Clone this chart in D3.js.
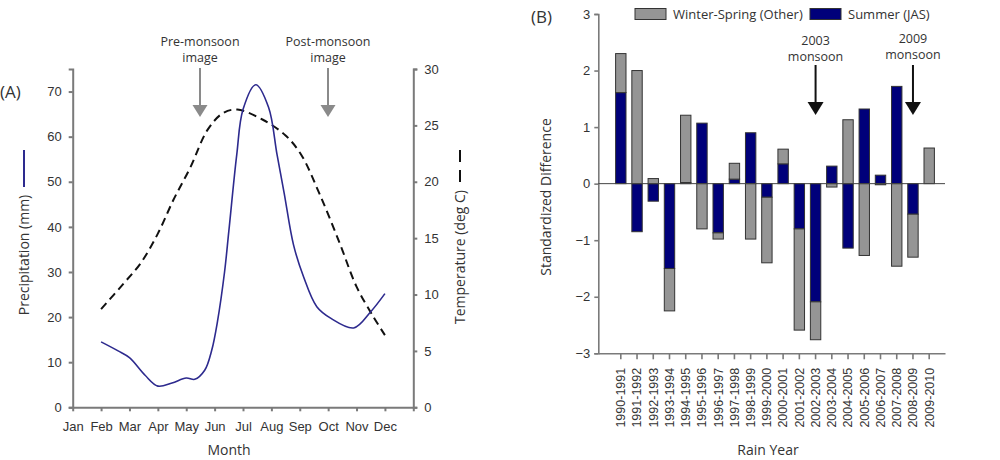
<!DOCTYPE html>
<html>
<head>
<meta charset="utf-8">
<script src="https://cdn.jsdelivr.net/npm/d3@7"></script>
<style>
  body { margin: 0; background: #fff; }
  svg { font-family: "Open Sans", sans-serif; }
  .tick text { fill: #333; }
</style>
</head>
<body>
<div id="chart"></div>
<script>
// ---- panel A data ----
const months = ["Jan", "Feb", "Mar", "Apr", "May", "Jun", "Jul", "Aug", "Sep", "Oct", "Nov", "Dec"];

// precipitation curve, month position (1 = Jan) and mm
const precipMonth = [2, 2.6, 3, 3.55, 4, 4.5, 5, 5.3, 5.65, 5.9, 6.1, 6.35, 6.5, 6.78, 7, 7.45, 7.9, 8.2, 8.45, 8.78, 9.13, 9.6, 10.1, 10.9, 11.5, 12];
const precipValue = [14.5, 12.5, 11, 7.1, 4.7, 5.4, 6.5, 6.2, 8.2, 12.7, 19, 30, 39, 56, 66, 71.5, 66.5, 56, 47.5, 36, 29, 22.3, 19.7, 17.6, 21.2, 25.2];

// temperature curve, deg C
const tempMonth = [2, 2.8, 3.4, 4, 4.55, 5.15, 5.75, 6.3, 6.8, 7.7, 8.5, 9.05, 9.7, 10.4, 11, 11.6, 12];
const tempValue = [8.7, 11, 12.8, 15.4, 18.4, 21.3, 24.6, 26.1, 26.4, 25.5, 24.1, 22.4, 18.9, 14.6, 10.7, 8, 6.4];

// ---- panel B data ----
const rainYears = ["1990-1991", "1991-1992", "1992-1993", "1993-1994", "1994-1995", "1995-1996", "1996-1997",
  "1997-1998", "1998-1999", "1999-2000", "2000-2001", "2001-2002", "2002-2003", "2003-2004", "2004-2005",
  "2005-2006", "2006-2007", "2007-2008", "2008-2009", "2009-2010"];
const summerJAS = [1.61, -0.85, -0.31, -1.5, 0.02, 1.07, -0.87, 0.08, 0.9, -0.24, 0.35, -0.8, -2.09, 0.31, -1.14, 1.32, 0.15, 1.72, -0.54, 0];
const winterSpring = [0.69, 2.0, 0.09, -0.75, 1.19, -0.8, -0.11, 0.28, -0.98, -1.16, 0.26, -1.79, -0.67, -0.06, 1.13, -1.27, -0.02, -1.46, -0.76, 0.63];

const navy = "#00007a";
const grey = "#959595";
const axisCol = "#7a7a7a";
const textCol = "#333";

const svg = d3.select("#chart").append("svg")
  .attr("width", 1000)
  .attr("height", 460);

// arrow helper
function arrow(g, x, y1, y2, col, headW, headH) {
  g.append("line")
    .attr("x1", x).attr("x2", x)
    .attr("y1", y1).attr("y2", y2 - headH + 1)
    .attr("stroke", col)
    .attr("stroke-width", 2);
  g.append("path")
    .attr("d", `M${x - headW / 2},${y2 - headH} L${x + headW / 2},${y2 - headH} L${x},${y2} Z`)
    .attr("fill", col);
}

function label2(g, x, y, lines, size) {
  const t = g.append("text")
    .attr("x", x).attr("y", y)
    .attr("text-anchor", "middle")
    .style("font-size", size + "px")
    .style("fill", textCol);
  lines.forEach((l, i) => {
    t.append("tspan").attr("x", x).attr("dy", i === 0 ? 0 : "1.25em").text(l);
  });
}

/* ================= Panel A ================= */
const gA = svg.append("g");

const xA = d3.scaleLinear().domain([1, 13]).range([72.7, 413.3]);
const yP = d3.scaleLinear().domain([0, 75]).range([407.3, 69]);
const yT = d3.scaleLinear().domain([0, 30]).range([407.3, 69]);

function styleAxis(g) {
  g.selectAll("path.domain").attr("stroke", axisCol).attr("stroke-width", 2);
  g.selectAll(".tick line").attr("stroke", axisCol).attr("stroke-width", 2);
  g.selectAll(".tick text").style("font-size", "13px");
}

gA.append("g")
  .attr("transform", "translate(0,407.3)")
  .call(d3.axisBottom(xA)
    .tickValues(d3.range(1, 14))
    .tickFormat(d => months[d - 1] || "")
    .tickSize(4)
    .tickSizeOuter(0)
    .tickPadding(10))
  .call(styleAxis);

gA.append("g")
  .attr("transform", "translate(72.7,0)")
  .call(d3.axisLeft(yP).tickValues(d3.range(0, 80, 10)).tickSize(4).tickSizeOuter(4).tickPadding(7))
  .call(styleAxis);

gA.append("g")
  .attr("transform", "translate(413.3,0)")
  .call(d3.axisRight(yT).tickValues(d3.range(0, 35, 5)).tickSize(4).tickSizeOuter(4).tickPadding(7))
  .call(styleAxis);

// curves
const precipPts = precipMonth.map((m, i) => [m, precipValue[i]]);
const tempPts = tempMonth.map((m, i) => [m, tempValue[i]]);

gA.append("path")
  .datum(tempPts)
  .attr("fill", "none")
  .attr("stroke", "#111")
  .attr("stroke-width", 2)
  .attr("stroke-dasharray", "8,5")
  .attr("d", d3.line().x(d => xA(d[0])).y(d => yT(d[1])).curve(d3.curveCatmullRom.alpha(0.5)));

gA.append("path")
  .datum(precipPts)
  .attr("fill", "none")
  .attr("stroke", "#2d2a8e")
  .attr("stroke-width", 1.6)
  .attr("d", d3.line().x(d => xA(d[0])).y(d => yP(d[1])).curve(d3.curveCatmullRom.alpha(0.5)));

// titles
gA.append("text")
  .attr("x", 229).attr("y", 455)
  .attr("text-anchor", "middle")
  .style("font-size", "14px").style("fill", textCol)
  .text("Month");

gA.append("text")
  .attr("transform", "translate(29,255) rotate(-90)")
  .attr("text-anchor", "middle")
  .style("font-size", "14px").style("fill", textCol)
  .text("Precipitation (mm)");
gA.append("line")
  .attr("x1", 24).attr("x2", 24).attr("y1", 150).attr("y2", 187)
  .attr("stroke", "#2d2a8e").attr("stroke-width", 2);

gA.append("text")
  .attr("transform", "translate(465,257) rotate(-90)")
  .attr("text-anchor", "middle")
  .style("font-size", "14px").style("fill", textCol)
  .text("Temperature (deg C)");
gA.append("line")
  .attr("x1", 460).attr("x2", 460).attr("y1", 150).attr("y2", 183)
  .attr("stroke", "#111").attr("stroke-width", 2)
  .attr("stroke-dasharray", "12,8");

gA.append("text")
  .attr("x", 0).attr("y", 98)
  .style("font-size", "17px").style("fill", textCol)
  .text("(A)");

label2(gA, 200, 46, ["Pre-monsoon", "image"], 12.5);
label2(gA, 328, 46, ["Post-monsoon", "image"], 12.5);
arrow(gA, 200, 68, 117, "#8a8a8a", 15, 12);
arrow(gA, 328, 68, 117, "#8a8a8a", 15, 12);

/* ================= Panel B ================= */
const gB = svg.append("g");

const xB = d3.scaleBand()
  .domain(rainYears)
  .range([598.3, 945])
  .paddingInner(0.36)
  .paddingOuter(0.86)
  .align(0.62);
const yB = d3.scaleLinear().domain([-3, 3]).range([353.3, 14]);

const rows = rainYears.map((y, i) => ({ year: y, summer: summerJAS[i], winter: winterSpring[i] }));
const series = d3.stack()
  .keys(["summer", "winter"])
  .offset(d3.stackOffsetDiverging)(rows);
const fillFor = { summer: navy, winter: grey };

gB.append("g")
  .attr("transform", "translate(598.3,0)")
  .call(d3.axisLeft(yB).ticks(6).tickSize(4).tickSizeOuter(4).tickPadding(4).tickFormat(d3.format("d")))
  .call(g => {
    g.selectAll("path.domain").attr("stroke", axisCol).attr("stroke-width", 1.6);
    g.selectAll(".tick line").attr("stroke", axisCol).attr("stroke-width", 1.6);
    g.selectAll(".tick text").style("font-size", "13px");
  });

gB.append("g")
  .attr("transform", "translate(0,353.3)")
  .call(d3.axisBottom(xB).tickSize(6).tickSizeOuter(0))
  .call(g => {
    g.selectAll("path.domain").attr("stroke", axisCol).attr("stroke-width", 1.6);
    g.selectAll(".tick line").attr("stroke", axisCol).attr("stroke-width", 1.6);
    g.selectAll(".tick text")
      .style("font-size", "12.5px")
      .attr("transform", "rotate(-90)")
      .attr("x", -14.5)
      .attr("y", 0)
      .attr("dy", "0.35em")
      .attr("text-anchor", "end");
  });

gB.selectAll("g.layer")
  .data(series)
  .join("g")
  .attr("class", "layer")
  .attr("fill", d => fillFor[d.key])
  .selectAll("rect")
  .data(d => d)
  .join("rect")
  .attr("x", d => xB(d.data.year))
  .attr("width", xB.bandwidth())
  .attr("y", d => yB(Math.max(d[0], d[1])))
  .attr("height", d => Math.abs(yB(d[0]) - yB(d[1])))
  .attr("stroke", "#333")
  .attr("stroke-width", 1);

// zero line
gB.append("line")
  .attr("x1", 598.3).attr("x2", 945)
  .attr("y1", yB(0)).attr("y2", yB(0))
  .attr("stroke", "#444").attr("stroke-width", 1);

gB.append("text")
  .attr("transform", "translate(551,197) rotate(-90)")
  .attr("text-anchor", "middle")
  .style("font-size", "14px").style("fill", textCol)
  .text("Standardized Difference");

gB.append("text")
  .attr("x", 768).attr("y", 455)
  .attr("text-anchor", "middle")
  .style("font-size", "14px").style("fill", textCol)
  .text("Rain Year");

gB.append("text")
  .attr("x", 531).attr("y", 23)
  .style("font-size", "17px").style("fill", textCol)
  .text("(B)");

// legend
const legend = [{ name: "Winter-Spring (Other)", col: grey, x: 635 }, { name: "Summer (JAS)", col: navy, x: 810 }];
legend.forEach(l => {
  gB.append("rect")
    .attr("x", l.x).attr("y", 8.5).attr("width", 31).attr("height", 11)
    .attr("fill", l.col).attr("stroke", "#333").attr("stroke-width", 1);
  gB.append("text")
    .attr("x", l.x + 38).attr("y", 18.5)
    .style("font-size", "13px").style("fill", textCol)
    .text(l.name);
});

// monsoon annotations
const xc = y => xB(y) + xB.bandwidth() / 2;
label2(gB, xc("2002-2003"), 45, ["2003", "monsoon"], 12.5);
label2(gB, xc("2008-2009"), 43, ["2009", "monsoon"], 12.5);
arrow(gB, xc("2002-2003"), 65, 115, "#111", 16, 13);
arrow(gB, xc("2008-2009"), 65, 115, "#111", 16, 13);
</script>
</body>
</html>
